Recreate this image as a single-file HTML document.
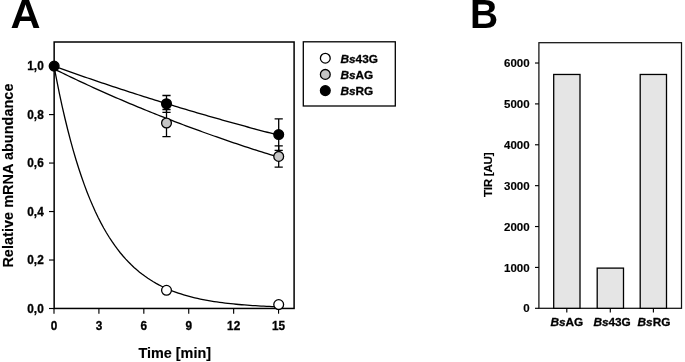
<!DOCTYPE html>
<html><head><meta charset="utf-8"><title>Figure</title>
<style>
html,body{margin:0;padding:0;background:#fff;}
body{width:685px;height:362px;overflow:hidden;font-family:"Liberation Sans",sans-serif;}
svg{display:block;will-change:transform;}
text{font-family:"Liberation Sans",sans-serif;font-weight:bold;fill:#000;stroke:#000;stroke-width:0.3px;}
.big{stroke-width:0;}
.tb{stroke-width:0.15px;}
.ax{stroke-width:0.15px;}
.t{font-size:11.8px;}
.tb{font-size:11.5px;}
.ax{font-size:14.4px;}
.big{font-size:40px;}
.i{font-style:italic;}
</style></head><body>
<svg width="685" height="362" viewBox="0 0 685 362">
<rect width="685" height="362" fill="#fff"/>

<text class="big" transform="translate(10.5,28.1) scale(1.04,1)" x="0" y="0">A</text>
<rect x="54.15" y="42" width="239.95" height="266.45" fill="none" stroke="#000" stroke-width="1.5"/>
<g stroke="#000" stroke-width="1.15">
<line x1="49" y1="308.50" x2="54" y2="308.50"/>
<line x1="49" y1="260.02" x2="54" y2="260.02"/>
<line x1="49" y1="211.54" x2="54" y2="211.54"/>
<line x1="49" y1="163.06" x2="54" y2="163.06"/>
<line x1="49" y1="114.58" x2="54" y2="114.58"/>
<line x1="49" y1="66.10" x2="54" y2="66.10"/>
<line x1="54.00" y1="308.5" x2="54.00" y2="313.7"/>
<line x1="98.91" y1="308.5" x2="98.91" y2="313.7"/>
<line x1="143.82" y1="308.5" x2="143.82" y2="313.7"/>
<line x1="188.73" y1="308.5" x2="188.73" y2="313.7"/>
<line x1="233.64" y1="308.5" x2="233.64" y2="313.7"/>
<line x1="278.55" y1="308.5" x2="278.55" y2="313.7"/>
</g>
<text class="t" transform="translate(43.7,312.85) scale(1,1.08)" text-anchor="end">0,0</text>
<text class="t" transform="translate(43.7,264.37) scale(1,1.08)" text-anchor="end">0,2</text>
<text class="t" transform="translate(43.7,215.89) scale(1,1.08)" text-anchor="end">0,4</text>
<text class="t" transform="translate(43.7,167.41) scale(1,1.08)" text-anchor="end">0,6</text>
<text class="t" transform="translate(43.7,118.93) scale(1,1.08)" text-anchor="end">0,8</text>
<text class="t" transform="translate(43.7,70.45) scale(1,1.08)" text-anchor="end">1,0</text>
<text class="t" transform="translate(54.00,330.1) scale(1,1.12)" text-anchor="middle">0</text>
<text class="t" transform="translate(98.91,330.1) scale(1,1.12)" text-anchor="middle">3</text>
<text class="t" transform="translate(143.82,330.1) scale(1,1.12)" text-anchor="middle">6</text>
<text class="t" transform="translate(188.73,330.1) scale(1,1.12)" text-anchor="middle">9</text>
<text class="t" transform="translate(233.64,330.1) scale(1,1.12)" text-anchor="middle">12</text>
<text class="t" transform="translate(278.55,330.1) scale(1,1.12)" text-anchor="middle">15</text>
<text class="ax" x="174.75" y="357.6" text-anchor="middle">Time [min]</text>
<text class="ax" transform="translate(13.15,175.6) rotate(-90)" text-anchor="middle" textLength="184" lengthAdjust="spacing">Relative mRNA abundance</text>
<g fill="none" stroke="#000" stroke-width="1.3">
<path d="M54.00,66.10 L56.76,80.49 L59.52,94.03 L62.28,106.77 L65.04,118.74 L67.80,130.01 L70.56,140.61 L73.32,150.58 L76.08,159.95 L78.84,168.77 L81.60,177.07 L84.36,184.88 L87.12,192.22 L89.88,199.12 L92.64,205.61 L95.40,211.72 L98.16,217.47 L100.92,222.88 L103.68,227.96 L106.44,232.74 L109.20,237.24 L111.96,241.47 L114.72,245.45 L117.48,249.19 L120.24,252.72 L123.00,256.03 L125.76,259.14 L128.52,262.07 L131.28,264.83 L134.04,267.42 L136.80,269.86 L139.56,272.16 L142.32,274.31 L145.08,276.34 L147.84,278.25 L150.60,280.05 L153.36,281.74 L156.12,283.33 L158.88,284.82 L161.64,286.23 L164.40,287.55 L167.16,288.79 L169.92,289.96 L172.68,291.07 L175.44,292.10 L178.20,293.07 L180.96,293.99 L183.72,294.85 L186.48,295.66 L189.24,296.42 L192.00,297.14 L194.76,297.82 L197.52,298.45 L200.28,299.05 L203.05,299.61 L205.81,300.14 L208.57,300.63 L211.33,301.10 L214.09,301.54 L216.85,301.95 L219.61,302.34 L222.37,302.71 L225.13,303.05 L227.89,303.37 L230.65,303.68 L233.41,303.97 L236.17,304.23 L238.93,304.49 L241.69,304.73 L244.45,304.95 L247.21,305.16 L249.97,305.36 L252.73,305.55 L255.49,305.72 L258.25,305.89 L261.01,306.04 L263.77,306.19 L266.53,306.32 L269.29,306.45 L272.05,306.58 L274.81,306.69"/>
<path d="M54.00,68.91 L56.81,70.30 L59.61,71.67 L62.42,73.04 L65.23,74.40 L68.03,75.75 L70.84,77.09 L73.65,78.43 L76.45,79.76 L79.26,81.08 L82.07,82.39 L84.88,83.69 L87.68,84.99 L90.49,86.28 L93.30,87.56 L96.10,88.83 L98.91,90.09 L101.72,91.35 L104.52,92.60 L107.33,93.85 L110.14,95.08 L112.94,96.31 L115.75,97.53 L118.56,98.74 L121.37,99.95 L124.17,101.15 L126.98,102.34 L129.79,103.53 L132.59,104.71 L135.40,105.88 L138.21,107.04 L141.01,108.20 L143.82,109.35 L146.63,110.49 L149.43,111.63 L152.24,112.76 L155.05,113.88 L157.85,115.00 L160.66,116.11 L163.47,117.21 L166.28,118.31 L169.08,119.40 L171.89,120.48 L174.70,121.56 L177.50,122.63 L180.31,123.70 L183.12,124.75 L185.92,125.81 L188.73,126.85 L191.54,127.89 L194.34,128.92 L197.15,129.95 L199.96,130.97 L202.76,131.99 L205.57,133.00 L208.38,134.00 L211.19,134.99 L213.99,135.99 L216.80,136.97 L219.61,137.95 L222.41,138.92 L225.22,139.89 L228.03,140.85 L230.83,141.81 L233.64,142.76 L236.45,143.70 L239.25,144.64 L242.06,145.58 L244.87,146.51 L247.67,147.43 L250.48,148.34 L253.29,149.26 L256.10,150.16 L258.90,151.06 L261.71,151.96 L264.52,152.85 L267.32,153.73 L270.13,154.61 L272.94,155.49 L275.74,156.36 L278.55,157.22"/>
<path d="M54.00,66.10 L56.81,67.11 L59.61,68.12 L62.42,69.13 L65.23,70.13 L68.03,71.13 L70.84,72.12 L73.65,73.11 L76.45,74.10 L79.26,75.08 L82.07,76.05 L84.88,77.03 L87.68,78.00 L90.49,78.96 L93.30,79.92 L96.10,80.88 L98.91,81.83 L101.72,82.78 L104.52,83.72 L107.33,84.66 L110.14,85.60 L112.94,86.53 L115.75,87.46 L118.56,88.39 L121.37,89.31 L124.17,90.23 L126.98,91.14 L129.79,92.05 L132.59,92.95 L135.40,93.86 L138.21,94.75 L141.01,95.65 L143.82,96.54 L146.63,97.43 L149.43,98.31 L152.24,99.19 L155.05,100.07 L157.85,100.94 L160.66,101.81 L163.47,102.67 L166.28,103.53 L169.08,104.39 L171.89,105.24 L174.70,106.09 L177.50,106.94 L180.31,107.79 L183.12,108.62 L185.92,109.46 L188.73,110.29 L191.54,111.12 L194.34,111.95 L197.15,112.77 L199.96,113.59 L202.76,114.41 L205.57,115.22 L208.38,116.03 L211.19,116.83 L213.99,117.64 L216.80,118.43 L219.61,119.23 L222.41,120.02 L225.22,120.81 L228.03,121.60 L230.83,122.38 L233.64,123.16 L236.45,123.93 L239.25,124.70 L242.06,125.47 L244.87,126.24 L247.67,127.00 L250.48,127.76 L253.29,128.52 L256.10,129.27 L258.90,130.02 L261.71,130.77 L264.52,131.51 L267.32,132.25 L270.13,132.99 L272.94,133.72 L275.74,134.46 L278.55,135.18"/>
</g>
<g fill="none" stroke="#000" stroke-width="1.3">
<path d="M166.50,109.50 V136.70 M162.40,109.50 H170.60 M162.40,136.70 H170.60" />
<path d="M278.70,145.80 V167.20 M274.60,145.80 H282.80 M274.60,167.20 H282.80" />
</g>
<g stroke="#000" stroke-width="1.3">
<circle cx="166.5" cy="290.30" r="4.9" fill="#fff"/>
<circle cx="278.7" cy="304.60" r="4.9" fill="#fff"/>
<circle cx="166.5" cy="123" r="4.9" fill="#c5c5c5"/>
<circle cx="278.7" cy="156.4" r="4.9" fill="#c5c5c5"/>
</g>
<g fill="none" stroke="#000" stroke-width="1.3">
<path d="M166.50,95.50 V112.30 M162.40,95.50 H170.60 M162.40,112.30 H170.60" />
<path d="M278.70,118.80 V150.30 M274.60,118.80 H282.80 M274.60,150.30 H282.80" />
</g>
<g stroke="#000" stroke-width="1.3" fill="#000">
<circle cx="54.15" cy="66.1" r="4.9"/>
<circle cx="166.5" cy="103.75" r="4.9"/>
<circle cx="278.7" cy="134.55" r="4.9"/>
</g>
<rect x="303.3" y="41.8" width="92" height="64.2" fill="#fff" stroke="#000" stroke-width="1.3"/>
<g stroke="#000" stroke-width="1.3">
<circle cx="325.3" cy="58.2" r="4.9" fill="#fff"/>
<circle cx="325.3" cy="74.4" r="4.9" fill="#c5c5c5"/>
<circle cx="325.3" cy="90.6" r="4.9" fill="#000"/>
</g>
<text class="t" x="340.5" y="62.80"><tspan class="i">Bs</tspan>43G</text>
<text class="t" x="340.5" y="79.00"><tspan class="i">Bs</tspan>AG</text>
<text class="t" x="340.5" y="95.20"><tspan class="i">Bs</tspan>RG</text>
<text class="big" transform="translate(469.9,28.1) scale(0.975,1)" x="0" y="0">B</text>
<rect x="538.9" y="42.7" width="142.6" height="265.6" fill="none" stroke="#111" stroke-width="1.25"/>
<g stroke="#000" stroke-width="1.3" fill="#e5e5e5">
<rect x="553.70" y="74.47" width="26.3" height="233.83"/>
<rect x="597.20" y="268.11" width="26.3" height="40.19"/>
<rect x="640.20" y="74.47" width="26.3" height="233.83"/>
</g>
<g stroke="#000" stroke-width="1.15">
<line x1="535" y1="308.30" x2="538.9" y2="308.30"/>
<line x1="535" y1="267.42" x2="538.9" y2="267.42"/>
<line x1="535" y1="226.54" x2="538.9" y2="226.54"/>
<line x1="535" y1="185.66" x2="538.9" y2="185.66"/>
<line x1="535" y1="144.78" x2="538.9" y2="144.78"/>
<line x1="535" y1="103.90" x2="538.9" y2="103.90"/>
<line x1="535" y1="63.02" x2="538.9" y2="63.02"/>
<line x1="566.80" y1="308.3" x2="566.80" y2="312.6"/>
<line x1="610.30" y1="308.3" x2="610.30" y2="312.6"/>
<line x1="653.40" y1="308.3" x2="653.40" y2="312.6"/>
</g>
<text class="tb" x="529.6" y="312.40" text-anchor="end">0</text>
<text class="tb" x="529.6" y="271.52" text-anchor="end">1000</text>
<text class="tb" x="529.6" y="230.64" text-anchor="end">2000</text>
<text class="tb" x="529.6" y="189.76" text-anchor="end">3000</text>
<text class="tb" x="529.6" y="148.88" text-anchor="end">4000</text>
<text class="tb" x="529.6" y="108.00" text-anchor="end">5000</text>
<text class="tb" x="529.6" y="67.12" text-anchor="end">6000</text>
<text class="t" x="566.80" y="326.3" text-anchor="middle"><tspan class="i">Bs</tspan>AG</text>
<text class="t" x="612.10" y="326.3" text-anchor="middle"><tspan class="i">Bs</tspan>43G</text>
<text class="t" x="654.00" y="326.3" text-anchor="middle"><tspan class="i">Bs</tspan>RG</text>
<text class="tb" transform="translate(492.4,174.8) rotate(-90)" text-anchor="middle" textLength="44.6" lengthAdjust="spacing">TIR [AU]</text>
</svg></body></html>
